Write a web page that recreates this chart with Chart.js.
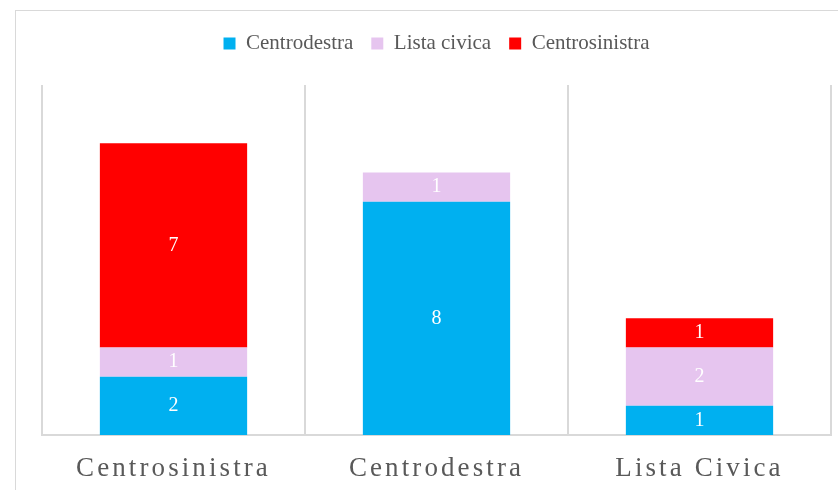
<!DOCTYPE html>
<html>
<head>
<meta charset="utf-8">
<script src="https://cdn.jsdelivr.net/npm/chart.js"></script>
<style>
  body { margin: 0; background: #fff; }
  .frame { position: absolute; left: 15px; top: 10px; width: 900px; height: 600px; border: 1px solid #d9d9d9; }
  .wrap { position: absolute; left: 0; top: 0; width: 838px; height: 490px; }
</style>
</head>
<body>
<div class="frame"></div>
<div class="wrap"><canvas id="chart" width="838" height="490"></canvas></div>

<script>
  const categories = ["Centrosinistra", "Centrodestra", "Lista Civica"];
  const seriesNames = ["Centrodestra", "Lista civica", "Centrosinistra"];
  const centrodestra = [2, 8, 1];
  const listaCivica = [1, 1, 2];
  const centrosinistra = [7, 0, 1];
  const colors = ["#00b0f0", "#e6c5ef", "#ff0000"];

  // white value labels in the middle of each segment, then spaced axis labels
  const valueLabels = {
    id: "valueLabels",
    afterDatasetsDraw(chart) {
      const ctx = chart.ctx;
      ctx.save();
      ctx.fillStyle = "#ffffff";
      ctx.font = "20px 'Liberation Serif'";
      ctx.textAlign = "center";
      ctx.textBaseline = "middle";
      chart.data.datasets.forEach((ds, i) => {
        chart.getDatasetMeta(i).data.forEach((bar, j) => {
          const v = ds.data[j];
          if (!v) return;
          ctx.fillText(String(v), bar.x, (bar.y + bar.base) / 2);
        });
      });
      ctx.restore();
      ctx.letterSpacing = "3.1px";
    },
    afterDraw(chart) {
      chart.ctx.letterSpacing = "0px";
    },
  };

  new Chart(document.getElementById("chart"), {
    type: "bar",
    data: {
      labels: categories,
      datasets: [
        { label: seriesNames[0], data: centrodestra, backgroundColor: colors[0] },
        { label: seriesNames[1], data: listaCivica, backgroundColor: colors[1] },
        { label: seriesNames[2], data: centrosinistra, backgroundColor: colors[2] },
      ],
    },
    options: {
      responsive: false,
      animation: false,
      layout: { padding: { left: 42, right: 7, top: 15, bottom: 0 } },
      datasets: { bar: { categoryPercentage: 1, barPercentage: 0.56 } },
      plugins: {
        tooltip: { enabled: false },
        legend: {
          position: "top",
          labels: {
            boxWidth: 12,
            boxHeight: 12,
            padding: 18,
            color: "#595959",
            font: { family: "'Liberation Serif'", size: 21 },
          },
        },
      },
      scales: {
        x: {
          stacked: true,
          afterFit: (s) => { s.height = 55; },
          grid: { color: "#d9d9d9", lineWidth: 2, drawTicks: false, offset: true },
          border: { color: "#d9d9d9", width: 2 },
          ticks: {
            z: 1,
            padding: 18,
            color: "#595959",
            font: { family: "'Liberation Serif'", size: 27 },
          },
        },
        gap: {
          type: "category",
          position: "top",
          afterFit: (s) => { s.height = 21; },
          grid: { display: false },
          border: { display: false },
          ticks: { display: false },
        },
        y: { stacked: true, display: false, min: 0, max: 12 },
      },
    },
    plugins: [valueLabels],
  });
</script>
</body>
</html>
